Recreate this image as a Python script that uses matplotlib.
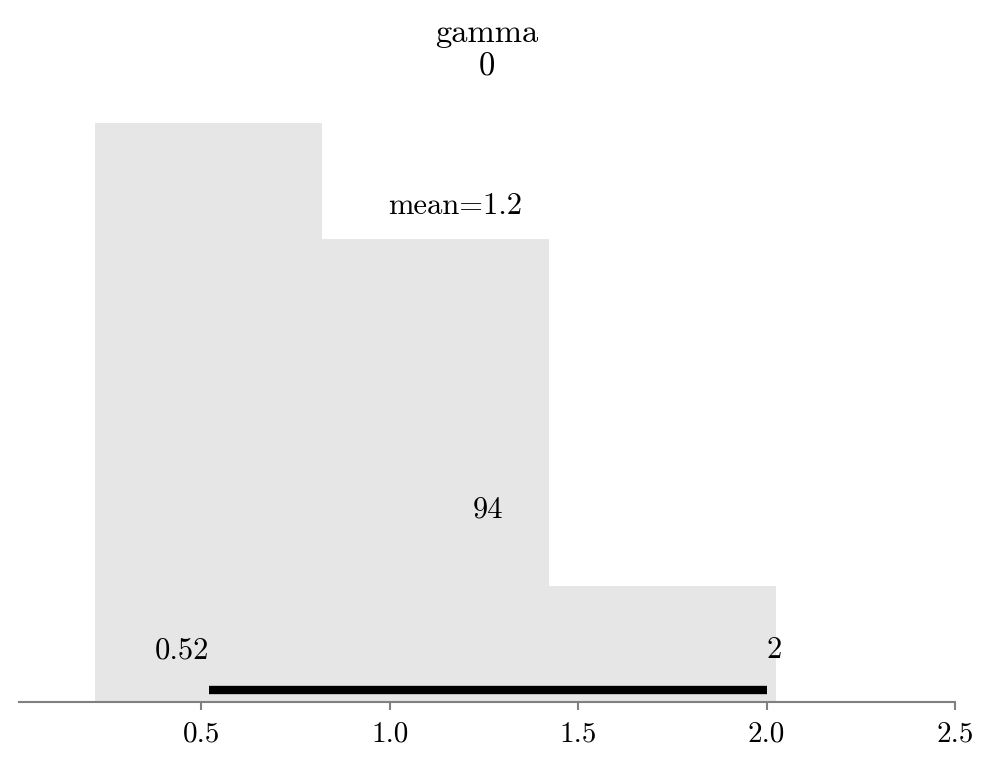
import matplotlib
matplotlib.use("Agg")
import matplotlib.pyplot as plt

# data
bin_edges = [0.218, 0.819, 1.423, 2.024]
counts = [5, 4, 1]
mean_value = 1.174
hdi = [0.52, 2.0]
hdi_texts = ["0.52", "2"]
hdi_label = "94"
var_name = "gamma"
coord_label = "0"
xticks = [0.5, 1.0, 1.5, 2.0, 2.5]
xticklabels = ["0.5", "1.0", "1.5", "2.0", "2.5"]

plt.rcParams["font.family"] = ["cmr10", "DejaVu Serif"]
plt.rcParams["mathtext.fontset"] = "cm"
plt.rcParams["axes.unicode_minus"] = False

fig = plt.figure(figsize=(9.93, 7.67), dpi=100)
ax = fig.add_axes([0.0191, 0.0847, 0.9426, 0.7823])

widths = [bin_edges[i + 1] - bin_edges[i] for i in range(len(counts))]
ax.bar(bin_edges[:-1], counts, width=widths, align="edge", color="#e6e6e6", linewidth=0)

ax.set_xlim(0.016, 2.5)
top = max(counts) * 1.037
ax.set_ylim(0, top)

fs = 22
ax.plot(hdi, [top * 0.02, top * 0.02], color="black", lw=6, solid_capstyle="butt")
ax.text(hdi[0], top * 0.063, hdi_texts[0], ha="right", va="bottom", fontsize=fs)
ax.text(hdi[1], top * 0.063, hdi_texts[1], ha="left", va="bottom", fontsize=fs)
ax.text(sum(hdi) / 2, top * 0.297, hdi_label, ha="center", va="bottom", fontsize=fs)
ax.text(mean_value, top * 0.803, f"mean={mean_value:.2g}", ha="center", va="bottom", fontsize=fs)

ax.set_title(var_name + "\n" + coord_label, fontsize=23.5, pad=19, linespacing=1.22)

for s in ["left", "right", "top"]:
    ax.spines[s].set_visible(False)
ax.spines["bottom"].set_color("#808080")
ax.spines["bottom"].set_linewidth(1.5)
ax.set_yticks([])
ax.set_xticks(xticks)
ax.set_xticklabels(xticklabels)
ax.tick_params(axis="x", colors="#808080", labelcolor="black", labelsize=21, length=6, width=1.5, pad=8)

fig.savefig("out.png", dpi=100)
